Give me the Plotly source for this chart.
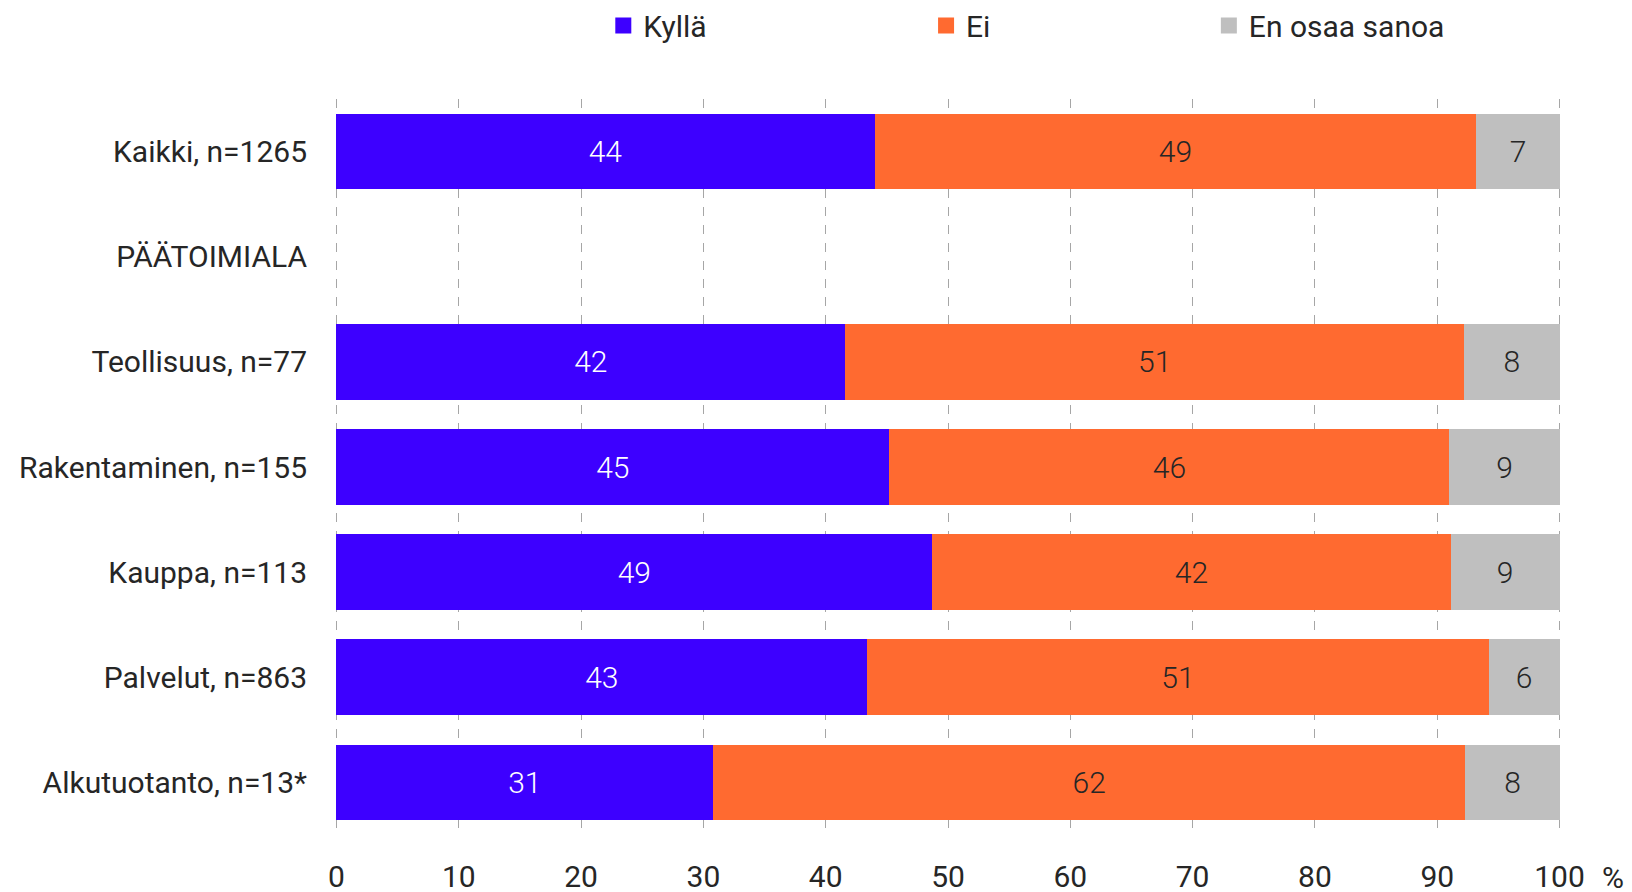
import plotly.graph_objects as go

# Data (percent shares)
categories = ["Kaikki, n=1265", "PÄÄTOIMIALA", "Teollisuus, n=77", "Rakentaminen, n=155",
              "Kauppa, n=113", "Palvelut, n=863", "Alkutuotanto, n=13*"]
kylla = [44.0, None, 41.6, 45.2, 48.7, 43.4, 30.8]
ei = [49.2, None, 50.6, 45.8, 42.4, 50.8, 61.5]
eos = [6.8, None, 7.8, 9.0, 8.9, 5.8, 7.7]
x_ticks = [0, 10, 20, 30, 40, 50, 60, 70, 80, 90, 100]

# Theme settings
FONT = "Roboto, Inter, sans-serif"
TEXT_COLOR = "#262626"
COLORS = {"Kyllä": "#3D00FF", "Ei": "#FF6A30", "En osaa sanoa": "#BFBFBF"}

W, H = 1632, 892
PLOT_L, PLOT_W = 333.5, 1228.9


def labels(values):
    return [f"{round(v):.0f}" if v is not None else "" for v in values]


def px_to_paper(px):
    return (px - PLOT_L) / PLOT_W


fig = go.Figure()

series = [("Kyllä", kylla, "white", "legend"),
          ("Ei", ei, TEXT_COLOR, "legend2"),
          ("En osaa sanoa", eos, TEXT_COLOR, "legend3")]

for name, values, txt_color, legend in series:
    fig.add_trace(go.Bar(
        y=categories, x=values, name=name, orientation="h",
        marker=dict(color=COLORS[name], line=dict(width=0)),
        text=labels(values), textposition="inside", insidetextanchor="middle",
        textfont=dict(family=FONT, size=30, color=txt_color, weight=300),
        showlegend=False, hoverinfo="x+name",
    ))
    # legend entry with a bigger square marker
    fig.add_trace(go.Scatter(
        x=[None], y=[None], name=name, mode="markers", legend=legend,
        marker=dict(symbol="square", size=16, color=COLORS[name]),
    ))

legend_common = dict(orientation="h", yanchor="middle", y=1.1, xanchor="left",
                     xref="paper", yref="paper", bgcolor="rgba(0,0,0,0)",
                     font=dict(family=FONT, size=30, color=TEXT_COLOR),
                     itemwidth=30, itemsizing="trace", tracegroupgap=0)

fig.update_layout(
    barmode="stack",
    bargap=0.28,
    width=W, height=H,
    plot_bgcolor="white", paper_bgcolor="white",
    margin=dict(l=PLOT_L, r=W - PLOT_L - PLOT_W, t=98.5, b=56.5, autoexpand=False),
    font=dict(family=FONT, size=30, color=TEXT_COLOR),
    uniformtext=dict(mode="show", minsize=10),
    showlegend=True,
    legend=dict(legend_common, x=px_to_paper(603)),
    legend2=dict(legend_common, x=px_to_paper(926)),
    legend3=dict(legend_common, x=px_to_paper(1209)),
)

fig.update_xaxes(
    range=[-0.2, 100.2], tickvals=x_ticks, showgrid=True, gridcolor="#A6A6A6",
    griddash="dash", gridwidth=1, zeroline=False, showline=False,
    ticks="", ticklabelstandoff=21,
    tickfont=dict(family=FONT, size=30, color=TEXT_COLOR),
)
fig.update_yaxes(
    autorange="reversed", showgrid=False, zeroline=False, showline=False,
    ticks="", ticklabelstandoff=26,
    tickfont=dict(family=FONT, size=30, color=TEXT_COLOR),
)

fig.add_annotation(text="%", x=px_to_paper(1613), y=0, xref="paper", yref="paper",
                   xanchor="center", yanchor="top", yshift=-23, showarrow=False,
                   font=dict(family=FONT, size=30, color=TEXT_COLOR))

# drop the default body margin so the figure fills the window exactly
fig.write_html("out.html", config={"displayModeBar": False},
               post_script="document.body.style.margin='0';")
